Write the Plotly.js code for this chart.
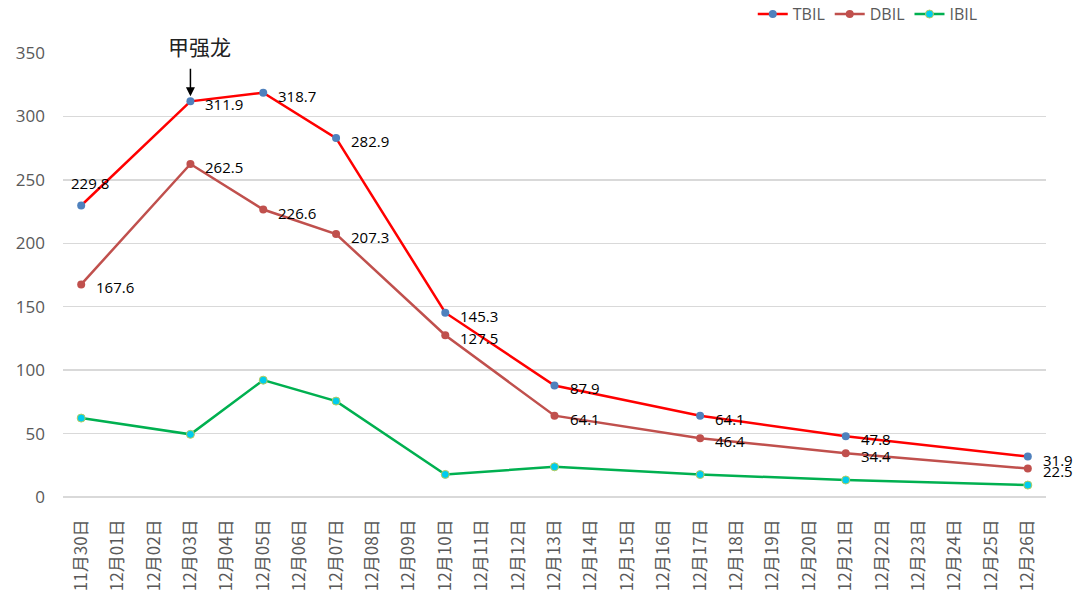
<!DOCTYPE html>
<html><head><meta charset="utf-8">
<script src="https://cdn.plot.ly/plotly-3.0.1.min.js"></script>
<style>html,body{margin:0;padding:0;background:#fff}#chart{width:1080px;height:615px}</style>
</head><body><div id="chart"></div>
<script>
// All category labels on the x axis
const allDates = ["11月30日","12月01日","12月02日","12月03日","12月04日","12月05日","12月06日","12月07日","12月08日","12月09日","12月10日","12月11日","12月12日","12月13日","12月14日","12月15日","12月16日","12月17日","12月18日","12月19日","12月20日","12月21日","12月22日","12月23日","12月24日","12月25日","12月26日"];
// Dates with measurements
const dates = ["11月30日","12月03日","12月05日","12月07日","12月10日","12月13日","12月17日","12月21日","12月26日"];
const TBIL = [229.8, 311.9, 318.7, 282.9, 145.3, 87.9, 64.1, 47.8, 31.9];
const DBIL = [167.6, 262.5, 226.6, 207.3, 127.5, 64.1, 46.4, 34.4, 22.5];
const IBIL = [62.2, 49.4, 92.1, 75.6, 17.8, 23.8, 17.7, 13.4, 9.4];
const yTicks = [0, 50, 100, 150, 200, 250, 300, 350];
const noteText = "甲强龙";
const noteDate = "12月03日";

const labelFont = {family:"Open Sans, Liberation Sans, sans-serif", size:15, color:"#000"};

const traces = [
  {name:"TBIL", x:dates, y:TBIL, type:"scatter", mode:"lines+markers",
   line:{color:"#FF0000", width:2.5}, marker:{color:"#4F81BD", size:8}, cliponaxis:false},
  {name:"DBIL", x:dates, y:DBIL, type:"scatter", mode:"lines+markers",
   line:{color:"#C0504D", width:2.5}, marker:{color:"#C0504D", size:8}, cliponaxis:false},
  {name:"IBIL", x:dates, y:IBIL, type:"scatter", mode:"lines+markers",
   line:{color:"#00B050", width:2.5}, marker:{color:"#00CCEE", size:8, line:{color:"#B8CC5A", width:1}}, cliponaxis:false}
];

// Data labels as annotations anchored at each data point
const labelAnns = [];
function addLabels(vals, isT) {
  vals.forEach((v, i) => {
    const first = isT && i === 0;
    labelAnns.push({x:dates[i], y:v, xref:"x", yref:"y", text:v.toFixed(1), showarrow:false,
      xanchor:"left", yanchor:"middle", xshift:first ? -12 : 13, yshift:first ? 22 : -3,
      font:labelFont});
  });
}
addLabels(TBIL, true);
addLabels(DBIL, false);

const noteY = TBIL[dates.indexOf(noteDate)];
const layout = {
  width:1080, height:615,
  margin:{l:63, r:34, t:53, b:118, autoexpand:false},
  paper_bgcolor:"#fff", plot_bgcolor:"#fff",
  showlegend:true,
  legend:{orientation:"h", xref:"container", yref:"container", x:0.697, y:0.977, xanchor:"left", yanchor:"middle",
    font:{family:"Open Sans, Liberation Sans, sans-serif", size:16, color:"#595959"}, tracegroupgap:0},
  xaxis:{type:"category", categoryorder:"array", categoryarray:allDates, tickvals:allDates,
    range:[-0.5, allDates.length-0.5], tickangle:-90, showgrid:false, showline:false, zeroline:false,
    ticks:"", ticklabelstandoff:18, tickfont:{family:"Noto Sans CJK SC, sans-serif", size:17, color:"#595959"}},
  yaxis:{range:[0,350], tickvals:yTicks, showgrid:true, gridcolor:"#D9D9D9", gridwidth:1.3,
    zeroline:true, zerolinecolor:"#D9D9D9", zerolinewidth:1.3, showline:false, ticks:"",
    ticklabelstandoff:17,
    tickfont:{family:"Open Sans, Liberation Sans, sans-serif", size:17, color:"#595959"}},
  annotations:labelAnns.concat([
    {x:noteDate, y:noteY, xref:"x", yref:"y", text:"", showarrow:true, ax:0, ay:-34,
     arrowhead:2, arrowsize:1.2, arrowwidth:1.5, arrowcolor:"#000", standoff:5},
    {x:noteDate, y:noteY, xref:"x", yref:"y", text:noteText, showarrow:false, xshift:9, yshift:55,
     font:{family:"Noto Sans CJK SC, sans-serif", size:21, color:"#222"}}
  ])
};
Plotly.newPlot("chart", traces, layout, {displayModeBar:false, staticPlot:true});
</script></body></html>
